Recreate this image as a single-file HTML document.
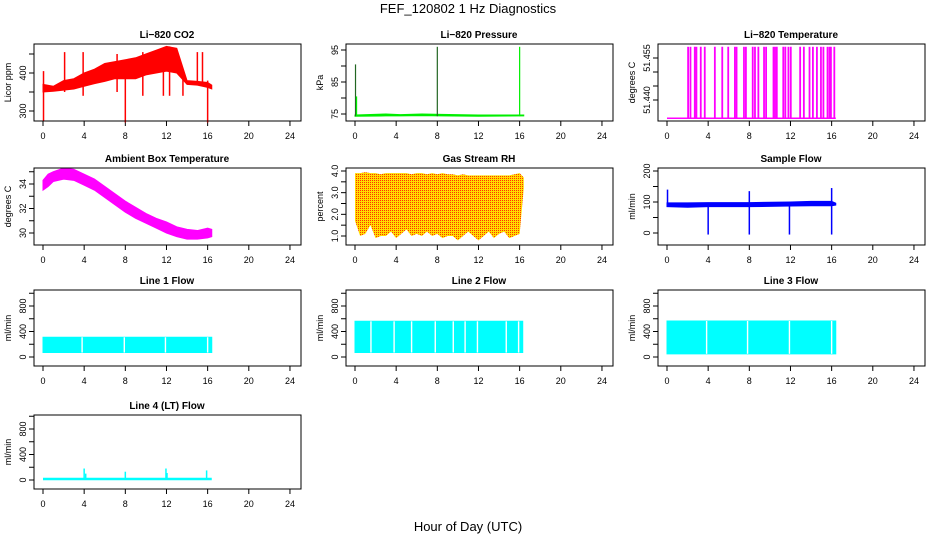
<!DOCTYPE html>
<html><head><meta charset="utf-8">
<style>
html,body{margin:0;padding:0;background:#fff;}
svg{display:block;font-family:"Liberation Sans",Arial,sans-serif;}
.tk{font-size:9px;}
.tt{font-size:10px;font-weight:bold;}
</style></head>
<body>
<svg id="chart" width="936" height="540" viewBox="0 0 936 540">
<defs>
<pattern id="rhpat" width="2" height="2" patternUnits="userSpaceOnUse">
<rect width="2" height="2" fill="#ffdd00"/><rect width="1" height="1" fill="#ff3300"/>
</pattern>
</defs>
<text x="468" y="13" text-anchor="middle" font-size="13">FEF_120802  1 Hz Diagnostics</text>
<text x="468" y="531" text-anchor="middle" font-size="13">Hour of Day (UTC)</text>
</svg>
<script>
// ---- data ----
const xTicks = [0,4,8,12,16,20,24];
// CO2
const co2Hours = [0,1,2,3,4,5,6,7,8,9,10,11,12,13,14,15,16,16.4];
const co2Lo = [350,352,355,358,365,372,378,385,385,385,395,400,405,400,370,368,362,358];
const co2Hi = [370,365,380,385,400,410,425,430,435,440,450,460,470,465,380,378,375,368];
const co2SpikeHours = [0.05,2.1,3.9,7.2,8.0,9.7,11.7,12.3,13.6,15.0,15.5,16.0];
const co2SpikeLo = [275,350,340,350,270,340,340,340,340,370,370,270];
const co2SpikeHi = [405,455,455,450,400,455,450,470,400,455,455,380];
// Pressure
const presHours = [0,3,4.4,6.5,8.4,12,16.4];
const presLo = [74.3,74.4,74.4,74.5,74.4,74.3,74.4];
const presHi = [74.7,75.0,74.8,75.0,74.9,74.7,74.7];
const presSpikeHours = [0.05,0.15,8.0,16.0];
const presSpikeHi = [90.5,80.5,96,96];
// Li-820 temperature
const tempBase = 51.4335;
const tempSpikeHours = [2.05,2.28,2.7,2.86,3.28,3.67,4.65,5.37,5.95,6.6,6.76,7.48,7.67,8.33,8.55,8.88,9.43,9.63,10.35,10.5,10.67,11.3,11.5,11.8,12.03,12.94,13.3,13.85,14.18,14.57,14.96,15.2,15.6,15.8,15.93,16.26];
const tempSpikeTop = 51.459;
// Ambient
const ambHours = [0,0.5,1,2,3,4,5,6,7,8,9,10,11,12,13,14,15,16,16.4];
const ambLo = [33.5,33.8,34.2,34.4,34.3,33.9,33.5,32.9,32.3,31.7,31.2,30.8,30.4,30.0,29.7,29.5,29.5,29.6,29.7];
const ambHi = [34.3,34.8,35.0,35.3,35.2,34.8,34.4,33.8,33.2,32.6,32.1,31.6,31.2,30.9,30.5,30.3,30.2,30.4,30.3];
// RH
const rhHours = [0,0.5,1,1.5,2,2.5,3,3.5,4,4.5,5,5.5,6,6.5,7,7.5,8,8.5,9,9.5,10,10.5,11,11.5,12,12.5,13,13.5,14,14.5,15,15.5,16,16.4];
const rhLo = [1.7,1.0,1.1,1.5,0.9,1.0,1.0,1.2,0.9,1.1,1.3,1.0,1.1,1.0,1.2,1.0,1.1,0.9,1.0,1.0,0.8,1.0,1.2,1.0,0.8,1.0,1.2,0.9,1.1,1.2,0.9,1.0,1.1,3.2];
const rhHi = [3.9,3.9,3.95,3.9,3.9,3.85,3.9,3.9,3.9,3.9,3.9,3.85,3.9,3.9,3.85,3.9,3.85,3.9,3.85,3.85,3.8,3.85,3.8,3.8,3.8,3.8,3.8,3.8,3.8,3.8,3.8,3.85,3.9,3.7];
// Sample flow
const sfHours = [0,2,4,8,12,14,16,16.4];
const sfLo = [85,83,85,85,87,88,88,90];
const sfHi = [97,97,98,98,100,102,102,96];
const sfSpikeHours = [0.05,4.0,8.0,11.9,16.0];
const sfSpikeLo = [85,-5,-5,-5,-5];
const sfSpikeHi = [140,95,135,95,145];
// Line flows
const l1Lo = 70, l1Hi = 310, l1End = 16.4;
const l1Gaps = [3.8,7.9,11.9,16.0];
const l2Lo = 70, l2Hi = 560, l2End = 16.3;
const l2Gaps = [1.55,3.8,5.5,7.8,9.55,10.7,11.9,14.7,15.9];
const l3Lo = 50, l3Hi = 565, l3End = 16.4;
const l3Gaps = [3.85,7.83,11.9,16.0];
const l4Base = 15, l4End = 16.4;
const l4SpikeHours = [4.0,4.15,8.0,11.95,12.05,15.9];
const l4SpikeHi = [180,100,130,180,110,150];

// ---- helpers ----
const svg = document.getElementById('chart');
const NS = 'http://www.w3.org/2000/svg';
const colX = [0,312,624];
const rowBox = [[44,121],[168,245],[290,366],[415,489]];
function mk(tag, attrs, parent){
  const e = document.createElementNS(NS, tag);
  for (const k in attrs) e.setAttribute(k, attrs[k]);
  (parent||svg).appendChild(e);
  return e;
}
function panel(name, col, row, title, ylab, yscale, yticks, ylabels){
  const g = mk('g', {});
  
  
  const ox = colX[col];
  const [top, bot] = rowBox[row];
  const xs = h => ox + 43 + h * 10.29;
  const left = ox + 34, right = ox + 301;
  const t = mk('text', {x: ox + 167, y: top - 6, 'text-anchor': 'middle', class: 'tt'}, g);
  t.textContent = title;
  
  
  const yl = mk('text', {x: 0, y: 0, 'text-anchor': 'middle', class: 'tk', transform: `translate(${ox+11},${(top+bot)/2}) rotate(-90)`}, g);
  yl.textContent = ylab;
  
  
  const xa = mk('g', {}, g);
  
  
  xTicks.forEach(v => {
    mk('line', {x1: xs(v), x2: xs(v), y1: bot, y2: bot + 5, stroke: '#000', 'stroke-width': 1}, xa);
    const l = mk('text', {x: xs(v), y: bot + 18, 'text-anchor': 'middle', class: 'tk'}, xa);
    l.textContent = v;
  });
  const ya = mk('g', {}, g);
  
  
  yticks.forEach(v => {
    const y = yscale(v);
    mk('line', {x1: left - 5, x2: left, y1: y, y2: y, stroke: '#000', 'stroke-width': 1}, ya);
  });
  ylabels.forEach(v => {
    const y = yscale(+v);
    const l = mk('text', {x: 0, y: 0, 'text-anchor': 'middle', class: 'tk', transform: `translate(${left-8},${y}) rotate(-90)`}, ya);
    l.textContent = v;
  });
  const marks = mk('g', {}, g);
  
  
  const box = mk('rect', {x: left, y: top, width: right - left, height: bot - top, fill: 'none', stroke: '#000', 'stroke-width': 1}, g);
  
  
  return {xs, ys: yscale, marks};
}
function band(p, hours, lo, hi, fill){
  let pts = hours.map((h,i) => `${p.xs(h)},${p.ys(hi[i])}`);
  for (let i = hours.length - 1; i >= 0; i--) pts.push(`${p.xs(hours[i])},${p.ys(lo[i])}`);
  const e = mk('polygon', {points: pts.join(' '), fill: fill, stroke: fill === 'url(#rhpat)' ? 'none' : fill, 'stroke-width': 1}, p.marks);
  
  
  return e;
}
function vline(p, h, lo, hi, color, w){
  const e = mk('line', {x1: p.xs(h), x2: p.xs(h), y1: p.ys(lo), y2: p.ys(hi), stroke: color, 'stroke-width': w || 1.5}, p.marks);
  
  
}
function gaps(p, list, lo, hi){
  list.forEach(h => {
    const e = mk('rect', {x: p.xs(h) - 0.7, y: p.ys(hi), width: 1.4, height: p.ys(lo) - p.ys(hi), fill: '#fff'}, p.marks);
    
    
  });
}

let p = panel('co2', 0, 0, 'Li\u2212820 CO2', 'Licor ppm', v => 111 - (v - 300) * 0.38, [300,350,400,450], ['300','400']);
band(p, co2Hours, co2Lo, co2Hi, '#ff0000');
co2SpikeHours.forEach((h,i) => vline(p, h, co2SpikeLo[i], co2SpikeHi[i], '#ff0000'));

p = panel('pressure', 1, 0, 'Li\u2212820 Pressure', 'kPa', v => 114 - (v - 75) * 3.2, [75,80,85,90,95], ['75','85','95']);
band(p, presHours, presLo, presHi, '#00ee00');
presSpikeHours.forEach((h,i) => vline(p, h, 74.3, presSpikeHi[i], i % 2 ? '#00ee00' : '#226622', 1.2));

p = panel('li820-temp', 2, 0, 'Li\u2212820 Temperature', 'degrees C', v => 100 - (v - 51.44) * 2800, [51.44,51.445,51.45,51.455], ['51.440','51.455']);
{
  const e = mk('line', {x1: p.xs(0), x2: p.xs(16.4), y1: p.ys(tempBase), y2: p.ys(tempBase), stroke: '#ff00ff', 'stroke-width': 1.5}, p.marks);
  
  
}
tempSpikeHours.forEach(h => vline(p, h, tempBase, tempSpikeTop, '#ff00ff', 1.8));

p = panel('ambient-temp', 0, 1, 'Ambient Box Temperature', 'degrees C', v => 233 - (v - 30) * 12.25, [30,31,32,33,34,35], ['30','32','34']);
band(p, ambHours, ambLo, ambHi, '#ff00ff');

p = panel('gas-rh', 1, 1, 'Gas Stream RH', 'percent', v => 236 - (v - 1) * 21.67, [1,1.5,2,2.5,3,3.5,4], ['1.0','2.0','3.0','4.0']);
band(p, rhHours, rhLo, rhHi, 'url(#rhpat)');

p = panel('sample-flow', 2, 1, 'Sample Flow', 'ml/min', v => 233 - v * 0.31, [0,50,100,150,200], ['0','100','200']);
band(p, sfHours, sfLo, sfHi, '#0000ff');
sfSpikeHours.forEach((h,i) => vline(p, h, sfSpikeLo[i], sfSpikeHi[i], '#0000ff'));

const flowTicks = [0,200,400,600,800,1000], flowLabels = ['0','400','800'];
p = panel('line1-flow', 0, 2, 'Line 1 Flow', 'ml/min', v => 357 - v * 0.06375, flowTicks, flowLabels);
band(p, [0,l1End], [l1Lo,l1Lo], [l1Hi,l1Hi], '#00ffff'); gaps(p, l1Gaps, l1Lo, l1Hi);
p = panel('line2-flow', 1, 2, 'Line 2 Flow', 'ml/min', v => 357 - v * 0.06375, flowTicks, flowLabels);
band(p, [0,l2End], [l2Lo,l2Lo], [l2Hi,l2Hi], '#00ffff'); gaps(p, l2Gaps, l2Lo, l2Hi);
p = panel('line3-flow', 2, 2, 'Line 3 Flow', 'ml/min', v => 357 - v * 0.06375, flowTicks, flowLabels);
band(p, [0,l3End], [l3Lo,l3Lo], [l3Hi,l3Hi], '#00ffff'); gaps(p, l3Gaps, l3Lo, l3Hi);
p = panel('line4-flow', 0, 3, 'Line 4 (LT) Flow', 'ml/min', v => 480 - v * 0.06375, flowTicks, flowLabels);
{
  const e = mk('line', {x1: p.xs(0), x2: p.xs(l4End), y1: p.ys(l4Base), y2: p.ys(l4Base), stroke: '#00ffff', 'stroke-width': 2.5}, p.marks);
  
  
}
l4SpikeHours.forEach((h,i) => vline(p, h, 0, l4SpikeHi[i], '#00ffff', 1.5));
</script>
</body></html>
